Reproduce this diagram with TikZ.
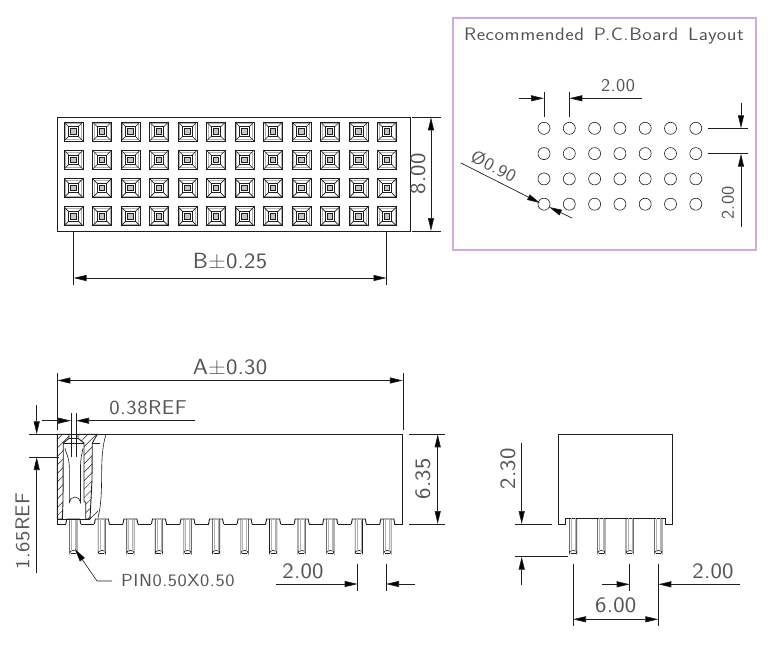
\documentclass[tikz,border=0pt]{standalone}
\usepackage{fontspec}
\setsansfont{Latin Modern Sans}
\usetikzlibrary{arrows.meta,patterns.meta}
\definecolor{ink}{RGB}{30, 30, 30}
\definecolor{dimtext}{RGB}{85, 85, 85}
\definecolor{framepink}{RGB}{208, 170, 216}
\tikzstyle{body} = [draw=ink, line width=0.9pt]
\tikzstyle{thin} = [draw=ink, line width=0.6pt]
\tikzstyle{tedge} = [draw=ink, line width=0.7pt, -{Triangle[length=13pt, width=6pt, fill=black]}]
\tikzstyle{both} = [draw=ink, line width=0.7pt, {Triangle[length=13pt, width=6pt, fill=black]}-{Triangle[length=13pt, width=6pt, fill=black]}]
\tikzstyle{ext} = [draw=ink, line width=0.6pt]
\tikzstyle{dimlabel} = [text=dimtext, inner sep=0pt, font=\sffamily\fontsize{22}{22}\selectfont\addfontfeature{FakeStretch=1.1,LetterSpace=1}]
\tikzstyle{reflabel} = [text=dimtext, inner sep=0pt, font=\sffamily\fontsize{20}{20}\selectfont\addfontfeature{FakeStretch=1.1,LetterSpace=2.5}]
\tikzstyle{smalllabel} = [text=dimtext, inner sep=0pt, font=\sffamily\fontsize{18}{18}\selectfont\addfontfeature{FakeStretch=1.08,LetterSpace=2.5}]
\tikzstyle{pinlabel} = [text=dimtext, inner sep=0pt, font=\sffamily\fontsize{17.5}{18}\selectfont\addfontfeature{FakeStretch=1.12,LetterSpace=3}]
\tikzstyle{titlelabel} = [text=dimtext, inner sep=0pt, font=\sffamily\fontsize{18}{18}\selectfont\addfontfeature{FakeStretch=1.12,LetterSpace=3}]
\tikzstyle{hatched} = [pattern={Lines[angle=45, distance=6pt, line width=0.5pt]}, pattern color=ink]
% socket cell of the top view, #1 = left, #2 = top
\newcommand{\socketcell}[2]{
  \draw[body] (#1,#2) rectangle ++(19,19);
  \draw[draw=gray!60, line width=0.5pt] (#1+1.6,#2+1.6) rectangle ++(15.8,15.8);
  \draw[thin] (#1,#2) -- ++(4.7,4.7) (#1+19,#2) -- ++(-4.7,4.7) (#1,#2+19) -- ++(4.7,-4.7) (#1+19,#2+19) -- ++(-4.7,-4.7);
  \draw[body] (#1+4.7,#2+4.7) rectangle ++(9.6,9.6);
  \draw[draw=ink, line width=0.8pt, fill=gray!45] (#1+6.8,#2+6.8) rectangle ++(5.4,5.4);
}
% pin below the housing, #1 = centre, #2 = upper end
\newcommand{\pinbody}[2]{
  \draw[thin] (#1-3.7,#2) -- (#1-3.7,553.5) arc[start angle=180, end angle=360, x radius=3.7, y radius=3.2] -- (#1+3.7,#2);
  \draw[draw=gray!60, line width=0.4pt] (#1-2,#2) -- (#1-2,552) (#1+2,#2) -- (#1+2,552);
  \draw[thin] (#1-2.5,553.5) -- (#1+2.5,553.5);
}
\begin{document}
\begin{tikzpicture}[x=1pt, y=-1pt]
\useasboundingbox (0,0) rectangle (768,658);

% top view =============================
\draw[body] (57.3,117.3) rectangle (410,231);
\foreach \col in {0,...,11} {
  \foreach \row in {0,...,3} {
    \socketcell{64+\col*28.5}{122+\row*28.3}
  }
}

\coordinate (bL) at (73.5,278);
\coordinate (bR) at (386.5,278);
\draw[ext] (73.5,231) -- (73.5,285) (386.5,231) -- (386.5,285);
\path[both] (bL) -- (bR);
\node[dimlabel] (blabel) at (230,261) {B±0.25};

\draw[ext] (412,117.3) -- (441,117.3) (412,231) -- (441,231);
\path[both] (431,117.3) -- (431,231);
\node[dimlabel, rotate=90] (hlabel) at (418,174) {8.00};

% board layout =============================
\draw[draw=framepink, line width=1.1pt] (453,18) rectangle (756,250);
\node[titlelabel] (title) at (604,36) {Recommended\, P.C.Board\, Layout};
\foreach \col in {0,...,6} {
  \foreach \row in {0,...,3} {
    \draw[thin] (544+\col*25.3,128.3+\row*25.3) circle (6);
  }
}

\draw[ext] (544,92) -- (544,117) (569.3,92) -- (569.3,117);
\path[tedge] (519,98.3) -- (544,98.3);
\path[tedge] (642,98.3) -- (569.3,98.3);
\node[smalllabel] (pitchx) at (618,86) {2.00};

\draw[ext] (708,128.3) -- (748,128.3) (708,153.7) -- (748,153.7);
\path[tedge] (741,103) -- (741,128.3);
\path[tedge] (741,227) -- (741,153.7);
\node[smalllabel, rotate=90] (pitchy) at (728,203) {2.00};

\path[tedge] (461,163) -- (540,203);
\path[tedge] (572,218) -- (549,207);
\node[smalllabel, rotate=-28] (drill) at (493.7,166) {Ø0.90};

% front view =============================
\draw[body] (57.3,524) -- (57.3,434.3) -- (402.8,434.3) -- (402.8,524) -- (393.5,524);
\foreach \n in {0,...,11} {
  \pgfmathsetmacro{\cx}{73.3+\n*28.55}
  \draw[body] (\cx+7.5,524) -- (\cx+6.5,519) -- (\cx-6.5,519) -- (\cx-7.5,524);
  \pinbody{\cx}{519}
}
\foreach \n in {0,...,10} {
  \pgfmathsetmacro{\cx}{73.3+\n*28.55}
  \draw[body] (\cx+7.5,524) -- (\cx+21.05,524);
}
\draw[body] (57.3,524) -- (65.8,524);

% section through the first contact
\draw[body, hatched] (57.3,434.3) -- (69,434.3) -- (69,438.3) -- (63.3,443) -- (63,502) -- (62.3,519) -- (57.3,519) -- cycle;
\draw[body, hatched] (78,434.3) -- (97.3,434.3) -- (92.3,443) -- (92,480) -- (90,519) -- (85.7,519) -- (85.7,502) -- (84,502) -- (84,443) -- (78,438.3) -- cycle;
\draw[body] (69,438.3) -- (78,438.3);
\draw[body] (63.3,443) -- (84,443);
\draw[thin] (106,434.3) .. controls (98,460) and (105,490) .. (98,518);
\draw[thin] (92.3,443) -- (99.5,443);
\draw[thin] (90,519) -- (98,511);
\draw[thin] (65,448.3) .. controls (67,456) and (69.3,458) .. (69.3,468) -- (69.3,502.5) arc[start angle=180, end angle=360, x radius=5.6, y radius=5.5] -- (80.5,468) .. controls (80.5,458) and (81.5,456) .. (83,448.3);
\draw[body] (57.3,519) -- (90,519);

% front view dimensions
\draw[ext] (57.3,373) -- (57.3,430) (402.8,373) -- (402.8,430);
\path[both] (57.3,380.5) -- (402.8,380.5);
\node[dimlabel] (alabel) at (230,367) {A±0.30};

\draw[ext] (71,413) -- (71,457) (76,413) -- (76,457);
\path[tedge] (42,420.7) -- (71,420.7);
\path[tedge] (195,420.7) -- (76,420.7);
\node[reflabel] (oref) at (148,407.5) {0.38REF};

\draw[ext] (29,434.3) -- (57.3,434.3) (29,457) -- (59,457);
\path[tedge] (36.7,405) -- (36.7,434.3);
\path[tedge] (36.7,573) -- (36.7,457);
\node[reflabel, rotate=90] (deplabel) at (22.5,531) {1.65REF};

\coordinate (pintip) at (75,549);
\coordinate (pinelbow) at (97,581);
\coordinate (pinend) at (112,581);
\draw[ext, {Triangle[length=13pt, width=6pt, fill=black]}-] (pintip) -- (pinelbow) -- (pinend);
\node[pinlabel, anchor=west] (pinname) at (121,581) {PIN0.50X0.50};

\draw[ext] (409,434.3) -- (445,434.3) (409,524) -- (445,524);
\path[both] (437.7,434.3) -- (437.7,524);
\node[dimlabel, rotate=90] (tlabel) at (423,479) {6.35};

\draw[ext] (357.7,564) -- (357.7,591) (386,564) -- (386,591);
\path[tedge] (276,584) -- (357.7,584);
\path[tedge] (415,584) -- (386,584);
\node[dimlabel] (pitchfront) at (303,571) {2.00};

% side view =============================
\draw[body] (565.3,518.3) -- (565.3,524) -- (558.7,524) -- (558.7,434.3) -- (672.3,434.3) -- (672.3,524) -- (665.7,524) -- (665.7,518.3) -- cycle;
\foreach \cx in {573,601.3,629.7,658.3} {
  \pinbody{\cx}{518.3}
}

\draw[ext] (515,524) -- (551.7,524) (515,556.7) -- (567.7,556.7);
\path[tedge] (521.7,442.7) -- (521.7,524);
\path[tedge] (521.7,585) -- (521.7,556.7);
\node[dimlabel, rotate=90] (slabel) at (508,469) {2.30};

\draw[ext] (629.7,564) -- (629.7,591) (658.3,564) -- (658.3,626) (573,564) -- (573,626);
\path[tedge] (601.7,584.3) -- (629.7,584.3);
\path[tedge] (740,584.3) -- (658.3,584.3);
\node[dimlabel] (pitchside) at (713,571.5) {2.00};
\path[both] (573,619.3) -- (658.3,619.3);
\node[dimlabel] (wlabel) at (615.7,605) {6.00};

\end{tikzpicture}
\end{document}
